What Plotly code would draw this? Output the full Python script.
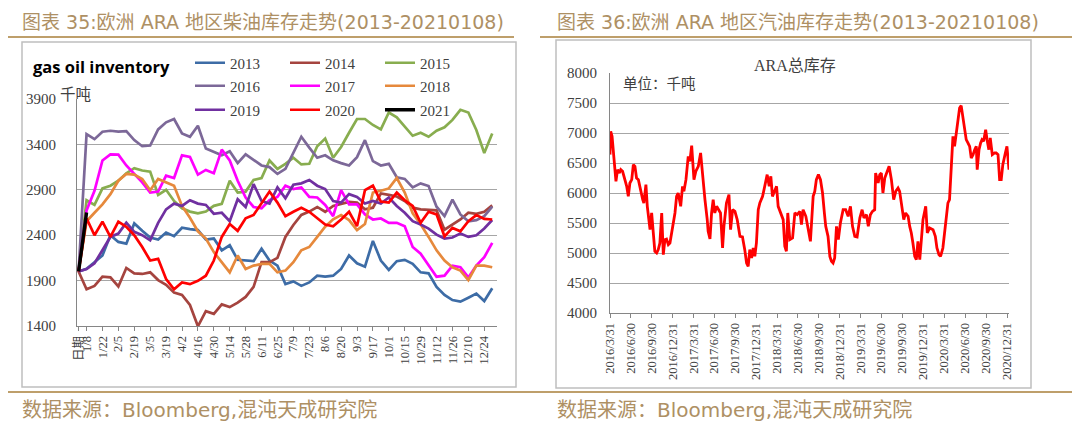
import plotly.graph_objects as go
import pandas as pd

W, H = 1080, 427
PAGE_OFFSET = 8  # default body margin of the written html page

# ---------------- left chart data ----------------
weeks = ["日期", "1/8", "1/15", "1/22", "1/29", "2/5", "2/12", "2/19", "2/26", "3/5", "3/12",
         "3/19", "3/26", "4/2", "4/9", "4/16", "4/23", "4/30", "5/7", "5/14", "5/21", "5/28",
         "6/4", "6/11", "6/18", "6/25", "7/2", "7/9", "7/16", "7/23", "7/30", "8/6", "8/13",
         "8/20", "8/27", "9/3", "9/10", "9/17", "9/24", "10/1", "10/8", "10/15", "10/22",
         "10/29", "11/5", "11/12", "11/19", "11/26", "12/3", "12/10", "12/17", "12/24", "12/31"]

s2013 = [2000, 2030, 2103, 2177, 2400, 2326, 2307, 2530, 2448, 2374,
         2352, 2430, 2389, 2482, 2467, 2456, 2352, 2363, 2233, 2289,
         2129, 2121, 2114, 2251, 2121, 2065, 1861, 1891, 1842, 1880,
         1954, 1943, 1954, 2028, 2177, 2091, 2054, 2337, 2121, 2017,
         2114, 2129, 2084, 1991, 1980, 1831, 1742, 1686, 1668, 1712,
         1757, 1675, 1816]
s2014 = [2000, 1805, 1842, 1943, 1935, 1835, 2039, 1980, 1973, 1991,
         1906, 1854, 1768, 1742, 1631, 1397, 1564, 1534, 1638, 1608,
         1657, 1720, 1831, 2103, 2103, 2151, 2381, 2512, 2623, 2660,
         2711, 2658, 2722, 2748, 2766, 2759, 2685, 2703, 2859, 2844,
         2826, 2777, 2703, 2685, 2677, 2673, 2461, 2517, 2573, 2647,
         2636, 2658, 2729]
s2015 = [2000, 2785, 2733, 2915, 2945, 3000, 3082, 3138, 3112, 3100,
         2844, 2900, 2777, 2697, 2660, 2641, 2660, 2723, 2745, 3000,
         2870, 2880, 3008, 3030, 3223, 3130, 3186, 3253, 3179, 3186,
         3380, 3465, 3253, 3372, 3528, 3680, 3680, 3614, 3565, 3751,
         3699, 3595, 3495, 3528, 3484, 3550, 3588, 3670, 3781, 3751,
         3558, 3305, 3521]
s2016 = [2000, 3513, 3458, 3540, 3550, 3540, 3547, 3447, 3380, 3387,
         3565, 3643, 3680, 3520, 3484, 3606, 3354, 3316, 3280, 3324,
         3194, 3290, 3231, 3168, 3150, 3075, 3130, 3298, 3484, 3365,
         3253, 3280, 3224, 3194, 3168, 3260, 3447, 3216, 3168, 3186,
         3038, 3020, 2926, 2971, 2941, 2714, 2610, 2792, 2629, 2554,
         2566, 2610, 2714]
s2017 = [2000, 2673, 2889, 3223, 3290, 3287, 3168, 3075, 2982, 2870,
         2881, 3056, 3030, 3279, 3261, 3067, 3119, 3082, 3342, 3223,
         3000, 2815, 2711, 2696, 2785, 2822, 2945, 2908, 2926, 2822,
         2815, 2733, 2610, 2896, 2740, 2740, 2629, 2573, 2584, 2536,
         2536, 2499, 2270, 2196, 2065, 1943, 1954, 2065, 2047, 1935,
         2065, 2158, 2315]
s2018 = [2000, 2554, 2647, 2740, 2852, 3000, 3075, 3067, 3019, 2896,
         3019, 2982, 2945, 2722, 2592, 2443, 2363, 2214, 2103, 1991,
         2177, 2028, 2065, 2084, 2084, 1991, 2010, 2103, 2233, 2270,
         2381, 2493, 2575, 2623, 2567, 2456, 2523, 2870, 2889, 2915,
         3030, 2870, 2640, 2520, 2381, 2233, 2121, 2047, 2010, 1906,
         2065, 2065, 2047]
s2019 = [2000, 2028, 2091, 2233, 2381, 2418, 2538, 2437, 2400, 2344,
         2536, 2685, 2748, 2722, 2785, 2748, 2733, 2636, 2647, 2554,
         2796, 2711, 2963, 2777, 2748, 2926, 2807, 2956, 2971, 3008,
         2945, 2908, 2777, 2759, 2852, 2822, 2748, 2777, 2748, 2815,
         2722, 2647, 2554, 2517, 2473, 2406, 2363, 2374, 2418, 2381,
         2400, 2474, 2567]
s2020 = [2000, 2586, 2400, 2549, 2381, 2549, 2493, 2400, 2270, 2121,
         2140, 1917, 1805, 1880, 1861, 1898, 1954, 2121, 2381, 2523,
         2448, 2586, 2623, 2759, 2881, 2759, 2610, 2658, 2703, 2658,
         2584, 2517, 2499, 2573, 2658, 2499, 2896, 2945, 2770, 2759,
         2870, 2785, 2722, 2536, 2658, 2629, 2387, 2480, 2443, 2554,
         2621, 2580, 2573]
s2021 = [2000, 2650]

year_names = ["2013", "2014", "2015", "2016", "2017", "2018", "2019", "2020", "2021"]
year_colors = ["#3D6CA6", "#A5443F", "#88AD4F", "#7C6898", "#FF00FF", "#E6893C",
               "#7030A0", "#FF0000", "#000000"]
year_series = [s2013, s2014, s2015, s2016, s2017, s2018, s2019, s2020, s2021]
left_yticks = [1400, 1900, 2400, 2900, 3400, 3900]

# ---------------- right chart data ----------------
ara_start = "2016-03-31"
ara_days = [0, 3, 9, 15, 22, 26, 33, 41, 47, 55,
            65, 73, 80, 87, 95, 102, 109, 116, 124, 134,
            143, 148, 157, 163, 169, 175, 182, 189, 196, 204,
            211, 218, 226, 233, 240, 247, 255, 262, 274, 284,
            291, 298, 309, 317, 323, 332, 342, 349, 357, 367,
            375, 386, 396, 405, 415, 425, 429, 437, 444, 451,
            458, 466, 473, 483, 492, 498, 509, 520, 527, 536,
            546, 556, 568, 579, 589, 597, 604, 611, 619, 626,
            633, 640, 648, 655, 667, 677, 687, 696, 703, 710,
            720, 728, 735, 745, 757, 764, 771, 777, 786, 798,
            808, 818, 830, 837, 844, 856, 866, 876, 888, 895,
            902, 911, 920, 929, 937, 943, 953, 961, 968, 975,
            982, 990, 998, 1007, 1019, 1030, 1041, 1051, 1060, 1070,
            1080, 1092, 1102, 1110, 1121, 1129, 1138, 1147, 1157, 1161,
            1172, 1179, 1186, 1193, 1201, 1211, 1220, 1230, 1240, 1249,
            1259, 1266, 1278, 1284, 1292, 1303, 1310, 1317, 1324, 1332,
            1339, 1346, 1354, 1361, 1368, 1380, 1387, 1397, 1412, 1422,
            1429, 1438, 1445, 1455, 1463, 1470, 1477, 1484, 1492, 1499,
            1506, 1514, 1521, 1528, 1535, 1543, 1550, 1557, 1565, 1572,
            1579, 1587, 1594, 1601, 1605, 1613, 1620, 1626, 1633, 1642,
            1648, 1656, 1662, 1671, 1681, 1688, 1696, 1703, 1710, 1717,
            1728, 1735, 1744]
ara_total = [6640, 7028, 6944, 6667, 6333, 6194, 6389, 6333, 6389, 6361,
             6222, 6111, 5944, 6167, 6222, 6472, 6444, 6250, 6222, 6028,
             5889, 5833, 6139, 5778, 5611, 5389, 5667, 5333, 5028, 5000,
             5056, 5167, 5667, 4972, 5222, 5233, 5139, 5167, 5444, 5667,
             5944, 6000, 5778, 6111, 6028, 6222, 6611, 6528, 6789, 6222,
             6361, 6444, 6667, 6222, 5889, 5556, 5361, 5233, 5667, 5889,
             5667, 5778, 5722, 5667, 5083, 5444, 5833, 5972, 5389, 5722,
             5694, 5556, 5278, 5267, 5056, 4833, 4778, 5056, 4917, 5083,
             4944, 5167, 5722, 5833, 5944, 6111, 6306, 6111, 6278, 5944,
             6056, 6111, 5778, 5667, 5556, 5111, 5028, 5667, 5222, 5250,
             5667, 5639, 5694, 5472, 5722, 5611, 5417, 5194, 5944, 6028,
             6222, 6306, 6222, 6000, 5667, 5444, 5278, 4944, 4861, 4833,
             4917, 5444, 5222, 5500, 5722, 5722, 5611, 5778, 5444, 5278,
             5267, 5583, 5722, 5583, 5639, 5444, 5639, 5694, 5722, 6333,
             6167, 6306, 6333, 6000, 6250, 6361, 6444, 6222, 5889, 6028,
             6083, 6028, 5722, 5556, 5667, 5611, 5444, 5333, 5167, 4944,
             4889, 5194, 4889, 5194, 5556, 5778, 5333, 5417, 5389, 5278,
             5083, 4972, 4944, 5083, 5333, 5611, 5833, 5889, 6500, 6944,
             6778, 7000, 7250, 7417, 7456, 7222, 7056, 6889, 6833, 6778,
             6583, 6639, 6722, 6778, 6389, 6722, 6833, 6889, 6861, 7056,
             6889, 6722, 6917, 6639, 6667, 6667, 6639, 6222, 6222, 6472,
             6667, 6778, 6389]
ara_ticklabels = ["2016/3/31", "2016/6/30", "2016/9/30", "2016/12/31",
                  "2017/3/31", "2017/6/30", "2017/9/30", "2017/12/31",
                  "2018/3/31", "2018/6/30", "2018/9/30", "2018/12/31",
                  "2019/3/31", "2019/6/30", "2019/9/30", "2019/12/31",
                  "2020/3/31", "2020/6/30", "2020/9/30", "2020/12/31"]
right_yticks = [4000, 4500, 5000, 5500, 6000, 6500, 7000, 7500, 8000]

ara_dates = pd.Timestamp(ara_start) + pd.to_timedelta(ara_days, unit="D")
ara_tickvals = pd.to_datetime(ara_ticklabels, format="%Y/%m/%d")


def px_x(x):
    return (x - PAGE_OFFSET) / W


def px_y(y):
    return 1 - (y - PAGE_OFFSET) / H


SERIF = "Liberation Serif, Noto Sans CJK SC, serif"
CJK = "Noto Sans CJK SC, sans-serif"
HEAD = "DejaVu Sans, Noto Sans CJK SC, sans-serif"
GOLD_TXT = "#AE9064"
GOLD_LINE = "#BE9F6B"
GRID = "#A6A6A6"
AXIS = "#868686"
TICKTXT = "#404040"

fig = go.Figure()

legend_ids = ["legend", "legend", "legend", "legend2", "legend2", "legend2",
              "legend3", "legend3", "legend3"]
for name, vals, color, lg in zip(year_names, year_series, year_colors, legend_ids):
    fig.add_trace(go.Scatter(
        x=weeks[:len(vals)], y=vals, mode="lines", name=name,
        line=dict(color=color, width=2.7 if name != "2021" else 3.4),
        legend=lg, xaxis="x", yaxis="y"))

fig.add_trace(go.Scatter(
    x=ara_dates, y=ara_total, mode="lines", showlegend=False,
    line=dict(color="#FF0000", width=2.8), xaxis="x2", yaxis="y2"))

left_tickvals = [weeks[0]] + weeks[1::2]

fig.update_layout(
    width=W, height=H, autosize=False,
    margin=dict(l=0, r=0, t=0, b=0, autoexpand=False),
    paper_bgcolor="white", plot_bgcolor="white",
    xaxis=dict(
        domain=[px_x(77), px_x(497)], anchor="y", type="category",
        categoryorder="array", categoryarray=weeks, automargin=False,
        range=[-0.2, 52.6], tickmode="array", tickvals=left_tickvals,
        ticktext=left_tickvals, tickangle=-90,
        tickfont=dict(family=SERIF, size=12.5, color=TICKTXT),
        showgrid=False, showline=True, linecolor=AXIS, linewidth=1,
        ticks="outside", ticklen=4, tickcolor=AXIS, zeroline=False),
    yaxis=dict(
        domain=[px_y(326), px_y(99)], anchor="x", automargin=False,
        range=[1400, 3900], tickmode="array", tickvals=left_yticks,
        tickfont=dict(family=SERIF, size=15, color=TICKTXT), ticklabelstandoff=17,
        showgrid=True, gridcolor=GRID, gridwidth=1,
        showline=True, linecolor=AXIS, linewidth=1, zeroline=False),
    xaxis2=dict(
        domain=[px_x(610), px_x(1009)], anchor="y2", type="date", automargin=False,
        range=[ara_tickvals[0], ara_tickvals[-1] + pd.Timedelta(days=8)],
        tickmode="array", tickvals=ara_tickvals, ticktext=ara_ticklabels,
        tickangle=-90, tickfont=dict(family=SERIF, size=12.5, color=TICKTXT),
        showgrid=False, showline=True, linecolor=AXIS, linewidth=1,
        ticks="outside", ticklen=4, tickcolor=AXIS, zeroline=False),
    yaxis2=dict(
        domain=[px_y(313), px_y(73)], anchor="x2", automargin=False,
        range=[4000, 8000], tickmode="array", tickvals=right_yticks,
        tickfont=dict(family=SERIF, size=15, color=TICKTXT), ticklabelstandoff=9,
        showgrid=True, gridcolor=GRID, gridwidth=1,
        showline=True, linecolor=AXIS, linewidth=1, zeroline=False),
)

leg_common = dict(orientation="h", xanchor="left", yanchor="middle",
                  bgcolor="rgba(0,0,0,0)", entrywidth=50, entrywidthmode="pixels",
                  font=dict(family=SERIF, size=15, color=TICKTXT),
                  itemwidth=30, tracegroupgap=0, borderwidth=0)
fig.update_layout(
    legend=dict(x=px_x(190), y=px_y(63), **leg_common),
    legend2=dict(x=px_x(190), y=px_y(86), **leg_common),
    legend3=dict(x=px_x(190), y=px_y(110), **leg_common),
)

annotations = [
    dict(text="图表 35:欧洲 ARA 地区柴油库存走势(2013-20210108)", x=px_x(20), y=px_y(8.5),
         xanchor="left", yanchor="top", font=dict(family=HEAD, size=19, color=GOLD_TXT)),
    dict(text="图表 36:欧洲 ARA 地区汽油库存走势(2013-20210108)", x=px_x(555), y=px_y(8.5),
         xanchor="left", yanchor="top", font=dict(family=HEAD, size=19, color=GOLD_TXT)),
    dict(text="数据来源：Bloomberg,混沌天成研究院", x=px_x(20), y=px_y(410),
         xanchor="left", yanchor="middle", font=dict(family=HEAD, size=20, color=GOLD_TXT)),
    dict(text="数据来源：Bloomberg,混沌天成研究院", x=px_x(555), y=px_y(410),
         xanchor="left", yanchor="middle", font=dict(family=HEAD, size=20, color=GOLD_TXT)),
    dict(text="<b>gas oil inventory</b>", x=px_x(31), y=px_y(66),
         xanchor="left", yanchor="middle", font=dict(family="Open Sans, sans-serif", size=16.5, color="#000000")),
    dict(text="千吨", x=px_x(58), y=px_y(93),
         xanchor="left", yanchor="middle", font=dict(family=CJK, size=15.5, color=TICKTXT)),
    dict(text="ARA总库存", x=px_x(795), y=px_y(65),
         xanchor="center", yanchor="middle", font=dict(family=SERIF, size=16, color=TICKTXT)),
    dict(text="单位：千吨", x=px_x(621), y=px_y(83),
         xanchor="left", yanchor="middle", font=dict(family=CJK, size=14.5, color=TICKTXT)),
]
for a in annotations:
    a.update(xref="paper", yref="paper", showarrow=False)
fig.update_layout(annotations=annotations)

shapes = [
    dict(type="line", x0=px_x(6), x1=px_x(514), y0=px_y(37), y1=px_y(37),
         line=dict(color=GOLD_LINE, width=2)),
    dict(type="line", x0=px_x(540), x1=px_x(1075), y0=px_y(37), y1=px_y(37),
         line=dict(color=GOLD_LINE, width=2)),
    dict(type="line", x0=px_x(6), x1=px_x(1075), y0=px_y(392), y1=px_y(392),
         line=dict(color=GOLD_LINE, width=2)),
    dict(type="rect", x0=px_x(22), x1=px_x(516), y0=px_y(387), y1=px_y(42),
         line=dict(color="#BFBFBF", width=1.5)),
    dict(type="rect", x0=px_x(556), x1=px_x(1031), y0=px_y(388), y1=px_y(40),
         line=dict(color="#BFBFBF", width=1.5)),
]
for s in shapes:
    s.update(xref="paper", yref="paper", layer="below")
fig.update_layout(shapes=shapes)

fig.write_html("out.html")
